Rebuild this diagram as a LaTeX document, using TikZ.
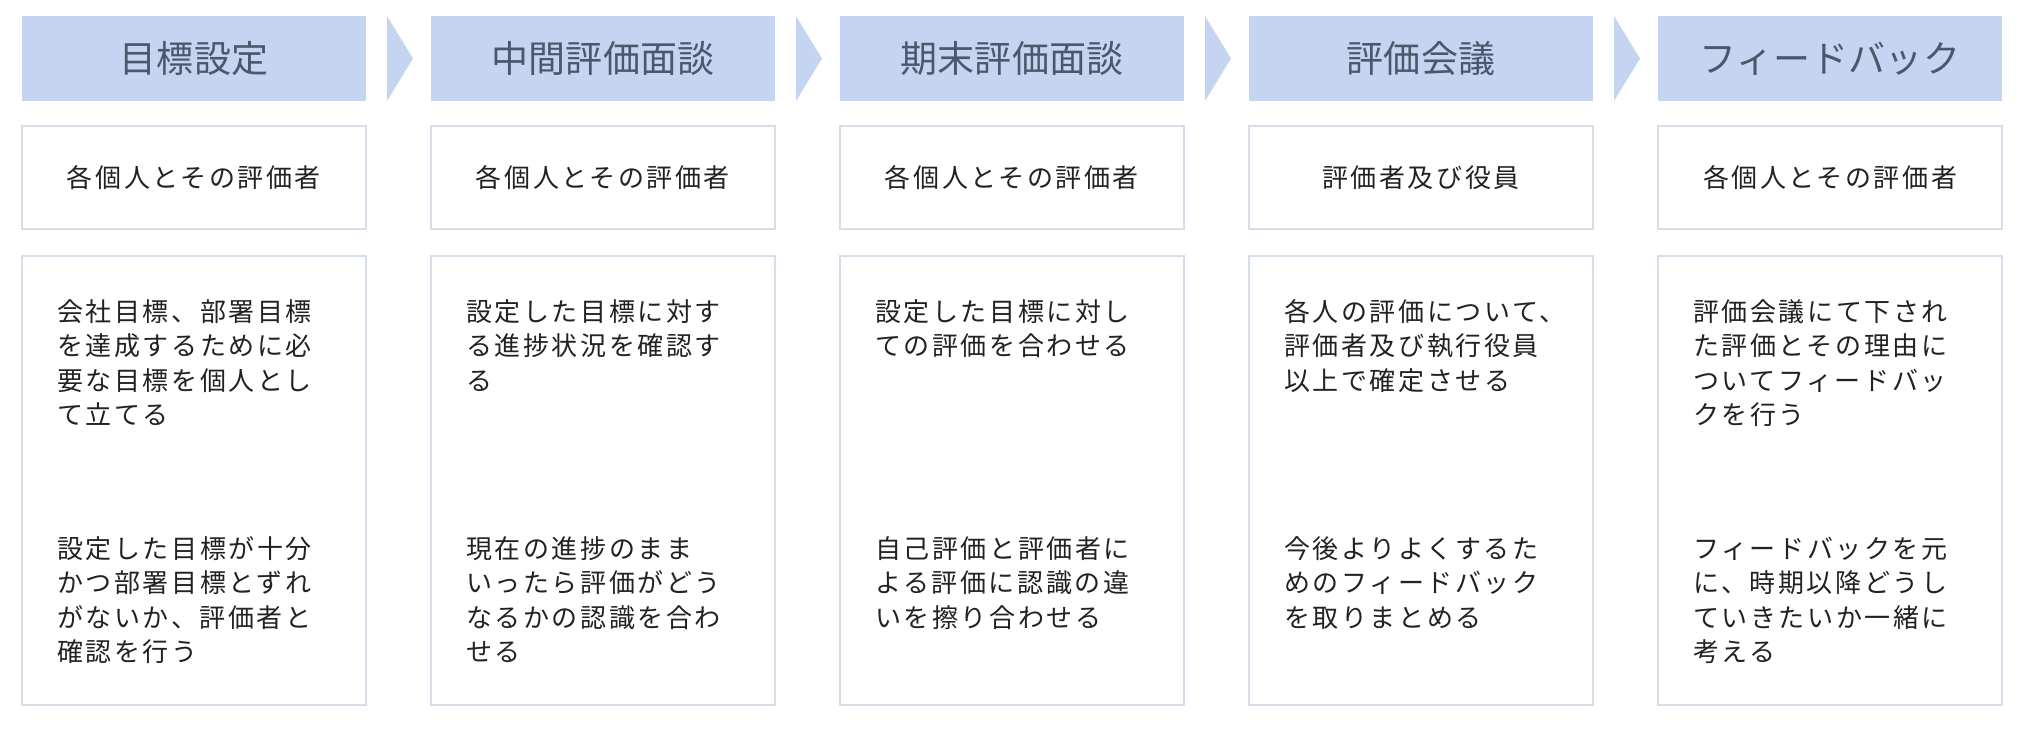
\documentclass[tikz,border=0pt]{standalone}
\usepackage{fontspec}
\newfontfamily\jpbody{Noto Sans CJK JP}[LetterSpace=10]
\newfontfamily\jphead{Noto Sans CJK JP}[LetterSpace=1]
\usetikzlibrary{calc}
\definecolor{hdrfill}{RGB}{197,213,241}
\definecolor{hdrtext}{RGB}{75,88,108}
\definecolor{boxline}{RGB}{216,222,233}
\definecolor{bodytext}{RGB}{34,34,34}
\newcommand{\pstrut}{\rule{0pt}{25pt}}
\begin{document}
\begin{tikzpicture}[x=1pt,y=-1pt,
  hdr/.style={fill=hdrfill, text=hdrtext, minimum width=344pt, minimum height=85pt, inner sep=0pt, outer sep=0pt, anchor=north west, font=\jphead\fontsize{37}{44}\selectfont},
  rolebox/.style={draw=boxline, line width=1.5pt, fill=white, minimum width=344pt, minimum height=103pt, inner sep=0pt, outer sep=0pt, anchor=north west, text=bodytext, font=\jpbody\fontsize{26}{34.5}\selectfont},
  descbox/.style={draw=boxline, line width=1.5pt, fill=white, minimum width=344pt, minimum height=449pt, inner sep=0pt, outer sep=0pt, anchor=north west},
  para/.style={anchor=north west, align=left, inner sep=0pt, text=bodytext, font=\jpbody\fontsize{26}{34.5}\selectfont},
  chev/.style={fill=hdrfill}]
\useasboundingbox[fill=white] (0,0) rectangle (2022,730);

% headers
\node[hdr] (h1) at (22,16) {目標設定};
\node[hdr] (h2) at (431,16) {中間評価面談};
\node[hdr] (h3) at (840,16) {期末評価面談};
\node[hdr] (h4) at (1249,16) {評価会議};
\node[hdr] (h5) at (1658,16) {フィードバック};

% chevrons between headers
\foreach \a in {h1,h2,h3,h4}{
  \fill[chev] ($(\a.north east)+(21,0)$) -- ($(\a.east)+(47,0)$) -- ($(\a.south east)+(21,0)$) -- cycle;
}

% role boxes
\node[rolebox] (r1) at (22,126) {各個人とその評価者};
\node[rolebox] (r2) at (431,126) {各個人とその評価者};
\node[rolebox] (r3) at (840,126) {各個人とその評価者};
\node[rolebox] (r4) at (1249,126) {評価者及び役員};
\node[rolebox] (r5) at (1658,126) {各個人とその評価者};

% description boxes
\node[descbox] (d1) at (22,256) {};
\node[descbox] (d2) at (431,256) {};
\node[descbox] (d3) at (840,256) {};
\node[descbox] (d4) at (1249,256) {};
\node[descbox] (d5) at (1658,256) {};

% paragraphs
\node[para] (p1a) at ($(d1.north west)+(35,40)$) {\pstrut 会社目標、部署目標\\を達成するために必\\要な目標を個人とし\\て立てる};
\node[para] (p1b) at ($(d1.north west)+(35,277)$) {\pstrut 設定した目標が十分\\かつ部署目標とずれ\\がないか、評価者と\\確認を行う};

\node[para] (p2a) at ($(d2.north west)+(35,40)$) {\pstrut 設定した目標に対す\\る進捗状況を確認す\\る};
\node[para] (p2b) at ($(d2.north west)+(35,277)$) {\pstrut 現在の進捗のまま\\いったら評価がどう\\なるかの認識を合わ\\せる};

\node[para] (p3a) at ($(d3.north west)+(35,40)$) {\pstrut 設定した目標に対し\\ての評価を合わせる};
\node[para] (p3b) at ($(d3.north west)+(35,277)$) {\pstrut 自己評価と評価者に\\よる評価に認識の違\\いを擦り合わせる};

\node[para] (p4a) at ($(d4.north west)+(35,40)$) {\pstrut 各人の評価について、\\評価者及び執行役員\\以上で確定させる};
\node[para] (p4b) at ($(d4.north west)+(35,277)$) {\pstrut 今後よりよくするた\\めのフィードバック\\を取りまとめる};

\node[para] (p5a) at ($(d5.north west)+(35,40)$) {\pstrut 評価会議にて下され\\た評価とその理由に\\ついてフィードバッ\\クを行う};
\node[para] (p5b) at ($(d5.north west)+(35,277)$) {\pstrut フィードバックを元\\に、時期以降どうし\\ていきたいか一緒に\\考える};
\end{tikzpicture}
\end{document}
